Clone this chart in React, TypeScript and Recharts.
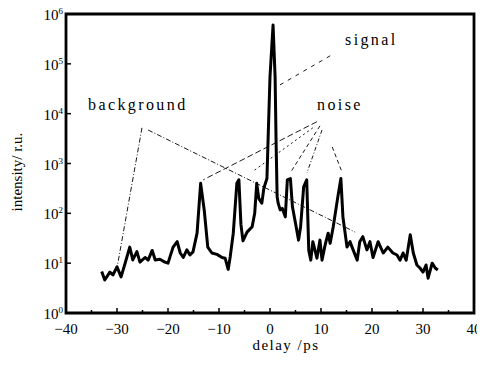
import React from 'react';
import { LineChart, Line, XAxis, YAxis, ReferenceArea, ReferenceLine, Customized, Label } from 'recharts';

const delay = [
  -33, -32.4, -31.4, -30.8, -30, -29.2, -28.4, -27.5, -26.9, -26.1, -25.5, -24.5, -23.9, -23.1, -22.5, -21.6,
  -20.6, -20, -19, -18.2, -17.6, -17, -16.3, -15.7, -15.1, -14.3, -13.6, -12.9, -12.2, -11.4, -10.4, -9.4,
  -8.8, -8.2, -7.8, -7.2, -6.5, -6.1, -5.7, -5.3, -4.5, -3.5, -3.0, -2.6, -2.2, -1.6, -1.2, -0.6,
  -0.4, 0, 0.6, 1.0, 1.2, 1.4, 1.6, 2.0, 2.4, 3.0, 3.4, 4.0, 4.4, 5.0, 5.6, 6.0,
  6.6, 7.2, 7.6, 8.0, 8.4, 9.2, 9.8, 10.2, 10.8, 11.4, 11.8, 12.4, 13.3, 13.9, 14.3, 15.1,
  15.7, 16.3, 17.1, 17.6, 18.2, 19.0, 19.6, 20.2, 21.2, 22.2, 23.1, 24.1, 24.9, 25.5, 26.1, 26.7,
  27.5, 28.1, 28.8, 29.4, 30.0, 30.6, 31.0, 31.8, 32.4, 32.9,
];
const intensity = [
  6.8, 4.6, 6.6, 5.8, 8.4, 5.3, 10, 21, 11.6, 17, 10.5, 13, 11.5, 18, 11.6, 12,
  10.5, 10, 21, 27, 16, 13, 18.5, 14.6, 16.8, 40, 400, 117, 21, 16, 15, 13,
  12.6, 7.5, 13.5, 40, 400, 470, 60, 28, 42, 54, 100, 400, 200, 160, 320, 500,
  2500, 55000, 600000, 55000, 2500, 214, 160, 117, 126, 85, 470, 500, 135, 63, 29, 54,
  340, 470, 18, 11.5, 27, 12.6, 29, 11.5, 23, 40, 25, 54, 214, 500, 85, 21,
  27, 18.5, 11.5, 27, 34, 18.5, 27, 13, 27, 16, 21, 16, 14.6, 11.5, 16, 11.5,
  37, 16, 9.2, 8, 6.6, 9.2, 5, 10, 8, 7.3,
];

const xTicks = [-40, -35, -30, -25, -20, -15, -10, -5, 0, 5, 10, 15, 20, 25, 30, 35, 40];
const yTicks = [1, 10, 100, 1000, 10000, 100000, 1000000];

// annotation leader lines: [x1, y1, x2, y2, dash]
const signalLines = [[11.8, 145000, 1.6, 36000, '4 5']];
const backgroundLines = [
  [-25.1, 5200, -30, 8, '5 2 1 2'],
  [-23.9, 4700, 16.7, 42, '5 2 1 2'],
];
const noiseLines = [
  [9.2, 6900, -13.1, 470, '6 3'],
  [8.4, 5200, -3.5, 680, '2 3'],
  [9.8, 5700, 4.1, 680, '4 3'],
  [10.2, 4700, 7.25, 650, '4 2 1 2'],
  [12.2, 2150, 14.1, 680, '4 3'],
];

const data = delay.map((d, i) => ({ delay: d, intensity: intensity[i] }));

const FONT = '"Liberation Serif", "DejaVu Serif", serif';

const XTick = (props: any) => {
  const { x, y, payload } = props;
  const v = payload.value;
  const major = v % 10 === 0;
  return (
    <g>
      <line x1={x} x2={x} y1={y} y2={y - (major ? 5 : 3)} stroke="#000" strokeWidth={1.5} />
      {major && (
        <text x={x} y={y + 21} textAnchor="middle" fontSize={15} fill="#000" fontFamily={FONT}>
          {v < 0 ? `\u2212${-v}` : `${v}`}
        </text>
      )}
    </g>
  );
};

const YTick = (props: any) => {
  const { x, y, payload } = props;
  const n = Math.round(Math.log10(payload.value));
  return (
    <g>
      <line x1={x} x2={x + 5} y1={y} y2={y} stroke="#000" strokeWidth={1.5} />
      <text x={x - 3} y={y + 6} textAnchor="end" fontSize={15} fill="#000" fontFamily={FONT}>
        <tspan>10</tspan>
        <tspan dy={-6} fontSize={9}>{n}</tspan>
      </text>
    </g>
  );
};

const Annotations = () => (
  <g fontFamily={FONT} fill="#000">
    <text x={88} y={110} fontSize={16} letterSpacing={2.4}>background</text>
    <text x={317} y={110} fontSize={16} letterSpacing={2.4}>noise</text>
    <text x={345} y={45} fontSize={16} letterSpacing={2.4}>signal</text>
    <text x={22} y={172} fontSize={15} textAnchor="middle" transform="rotate(-90 22 172)">intensity/ r.u.</text>
  </g>
);

const renderLines = (arr: any[], key: string) =>
  arr.map((s, i) => (
    <ReferenceLine
      key={key + i}
      segment={[{ x: s[0], y: s[1] }, { x: s[2], y: s[3] }]}
      stroke="#000"
      strokeWidth={0.9}
      strokeDasharray={s[4]}
      ifOverflow="visible"
    />
  ));

export default function App() {
  return (
    <div style={{ width: 485, height: 370, margin: '-8px 0 0 -8px', background: '#fff' }}>
      <LineChart
        width={485}
        height={370}
        data={data}
        margin={{ top: 14, right: 11, left: 0, bottom: 0 }}
        style={{ fontFamily: FONT }}
      >
        <XAxis
          dataKey="delay"
          type="number"
          domain={[-40, 40]}
          ticks={xTicks}
          interval={0}
          height={57}
          tickSize={0}
          tickMargin={0}
          axisLine={false}
          tickLine={false}
          tick={<XTick />}
        >
          <Label
            value="delay /ps"
            position="insideBottom"
            offset={20}
            dx={16}
            style={{ fontSize: 15, fill: '#000', fontFamily: FONT, letterSpacing: 1.5 }}
          />
        </XAxis>
        <YAxis
          type="number"
          scale="log"
          domain={[1, 1000000]}
          allowDataOverflow
          ticks={yTicks}
          interval={0}
          width={66}
          tickSize={0}
          tickMargin={0}
          axisLine={false}
          tickLine={false}
          tick={<YTick />}
        />
        <ReferenceArea
          x1={-40}
          x2={40}
          y1={1}
          y2={1000000}
          fill="none"
          fillOpacity={0}
          stroke="#000"
          strokeWidth={2.8}
          ifOverflow="visible"
        />
        {renderLines(signalLines, 's')}
        {renderLines(backgroundLines, 'b')}
        {renderLines(noiseLines, 'n')}
        <Line
          type="linear"
          dataKey="intensity"
          stroke="#000"
          strokeWidth={3}
          strokeLinejoin="round"
          dot={false}
          isAnimationActive={false}
        />
        <Customized component={Annotations} />
      </LineChart>
    </div>
  );
}
